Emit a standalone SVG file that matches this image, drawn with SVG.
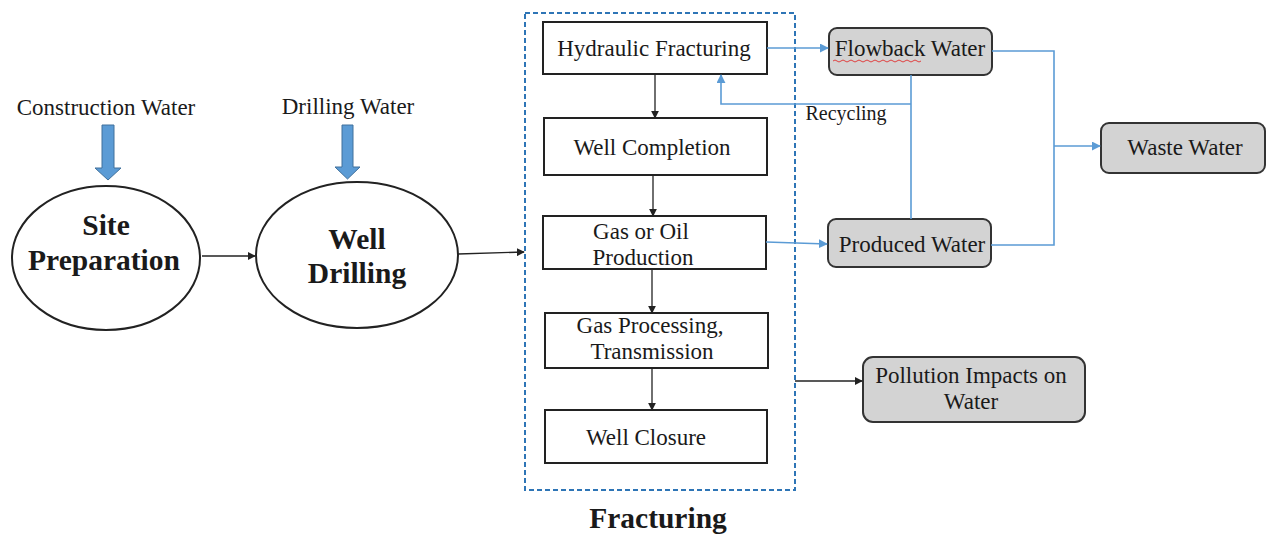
<svg xmlns="http://www.w3.org/2000/svg" width="1272" height="536" viewBox="0 0 1272 536">
<defs>
<style>
text{font-family:"Liberation Serif","Times New Roman",serif;fill:#1a1a1a;text-anchor:middle}
.t{font-size:23px}
.b{font-size:29.5px;font-weight:bold}
.s{font-size:20px}
.box{fill:#fff;stroke:#222;stroke-width:2}
.gbox{fill:#d3d3d3;stroke:#333;stroke-width:2}
.ell{fill:#fff;stroke:#222;stroke-width:2}
.k{fill:none;stroke:#222;stroke-width:1.3}
.bl{fill:none;stroke:#5b9bd5;stroke-width:1.6}
.dash{fill:none;stroke:#2e75b6;stroke-width:2;stroke-dasharray:5,3}
.blk{fill:#5b9bd5;stroke:#41719c;stroke-width:1}
</style>
<marker id="ak" viewBox="0 0 10 10" refX="9" refY="5" markerWidth="8" markerHeight="8" orient="auto" markerUnits="userSpaceOnUse"><path d="M0,0 L10,5 L0,10 z" fill="#222"/></marker>
<marker id="ab" viewBox="0 0 10 10" refX="9" refY="5" markerWidth="9" markerHeight="9" orient="auto" markerUnits="userSpaceOnUse"><path d="M0,0 L10,5 L0,10 z" fill="#5b9bd5"/></marker>
</defs>
<rect width="1272" height="536" fill="#fff"/>

<g id="fracturing-group">
<rect class="dash" x="525" y="13" width="270" height="477"/>
<text class="b" x="658" y="528">Fracturing</text>
</g>

<g id="construction-water">
<text class="t" x="106" y="115">Construction Water</text>
<path class="blk" d="M102,125 H114 V168 H121 L108,180 L95,168 H102 Z"/>
</g>
<g id="drilling-water">
<text class="t" x="348" y="114">Drilling Water</text>
<path class="blk" d="M342,125 H353 V167 H360 L347.5,179 L335,167 H342 Z"/>
</g>

<g id="site-preparation">
<ellipse class="ell" cx="106" cy="258" rx="94" ry="72"/>
<text class="b" x="106" y="235">Site</text>
<text class="b" x="104" y="270">Preparation</text>
</g>
<g id="well-drilling">
<ellipse class="ell" cx="357" cy="255" rx="101" ry="73"/>
<text class="b" x="357" y="249">Well</text>
<text class="b" x="357" y="283">Drilling</text>
</g>

<g id="hydraulic-fracturing">
<rect class="box" x="543" y="22" width="224" height="52"/>
<text class="t" x="654" y="56">Hydraulic Fracturing</text>
</g>
<g id="well-completion">
<rect class="box" x="544" y="118" width="223" height="57"/>
<text class="t" x="652" y="155">Well Completion</text>
</g>
<g id="gas-oil-production">
<rect class="box" x="543" y="216" width="223" height="53"/>
<text class="t" x="641" y="239">Gas or Oil</text>
<text class="t" x="643" y="265">Production</text>
</g>
<g id="gas-processing">
<rect class="box" x="545" y="313" width="223" height="55"/>
<text class="t" x="650" y="333">Gas Processing,</text>
<text class="t" x="652" y="359">Transmission</text>
</g>
<g id="well-closure">
<rect class="box" x="545" y="410" width="222" height="53"/>
<text class="t" x="646" y="445">Well Closure</text>
</g>

<g id="flowback-water">
<rect class="gbox" x="829" y="28" width="163" height="47" rx="8"/>
<text class="t" x="910" y="56">Flowback Water</text>
<path d="M833,61 q2,-2 4,0 t4,0 t4,0 t4,0 t4,0 t4,0 t4,0 t4,0 t4,0 t4,0 t4,0 t4,0 t4,0 t4,0 t4,0 t4,0 t4,0 t4,0 t4,0 t4,0 t4,0 t4,0" fill="none" stroke="#e04040" stroke-width="1"/>
</g>
<g id="produced-water">
<rect class="gbox" x="828" y="219" width="163" height="48" rx="8"/>
<text class="t" x="912" y="252">Produced Water</text>
</g>
<g id="waste-water">
<rect class="gbox" x="1101" y="123" width="164" height="50" rx="8"/>
<text class="t" x="1185" y="155">Waste Water</text>
</g>
<g id="pollution-impacts">
<rect class="gbox" x="863" y="357" width="222" height="65" rx="10"/>
<text class="t" x="971" y="383">Pollution Impacts on</text>
<text class="t" x="971" y="409">Water</text>
</g>

<g id="connectors">
<line class="k" x1="202" y1="256" x2="255" y2="256" marker-end="url(#ak)"/>
<line class="k" x1="458" y1="254" x2="524" y2="252" marker-end="url(#ak)"/>
<line class="k" x1="655" y1="74" x2="655" y2="118" marker-end="url(#ak)"/>
<line class="k" x1="653" y1="175" x2="653" y2="216" marker-end="url(#ak)"/>
<line class="k" x1="652" y1="269" x2="652" y2="313" marker-end="url(#ak)"/>
<line class="k" x1="652" y1="368" x2="652" y2="410" marker-end="url(#ak)"/>
<line class="k" x1="795" y1="381" x2="862" y2="381" marker-end="url(#ak)"/>
<line class="bl" x1="767" y1="48" x2="828" y2="48" marker-end="url(#ab)"/>
<line class="bl" x1="766" y1="242" x2="827" y2="244" marker-end="url(#ab)"/>
<line class="bl" x1="911" y1="75" x2="911" y2="219"/>
<polyline class="bl" points="911,104 721,104 721,75" marker-end="url(#ab)"/>
<polyline class="bl" points="992,51 1054,51 1054,245 991,245"/>
<line class="bl" x1="1054" y1="146" x2="1100" y2="146" marker-end="url(#ab)"/>
<text class="s" x="846" y="120">Recycling</text>
</g>
</svg>
